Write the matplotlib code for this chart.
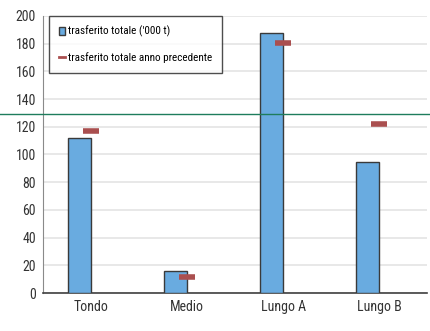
import numpy as np
import matplotlib.pyplot as plt
from matplotlib.lines import Line2D
from matplotlib.patches import Patch

plt.rcParams['font.family'] = ['Roboto Condensed', 'Liberation Sans', 'DejaVu Sans']

categorie = ["Tondo", "Medio", "Lungo A", "Lungo B"]
trasferito = [112, 16, 188, 94.5]
anno_prec = [117, 11.5, 180.5, 122]
soglia = 129

x = np.arange(len(categorie))
w = 0.24

fig = plt.figure(figsize=(4.31, 3.31), dpi=100)
ax = fig.add_axes([0.0998, 0.1148, 0.891, 0.8369])

ax.bar(x - w, trasferito, width=w, align='edge', color='#69abe0',
       edgecolor='#3a3a3a', linewidth=1.0, zorder=3)
ax.plot(x, anno_prec, linestyle='none', marker='_', markersize=11,
        markeredgewidth=4, color='#aa4f4f', zorder=4)

ax.set_ylim(0, 200)
ax.set_xlim(-0.5, 3.5)
ax.set_yticks(np.arange(0, 201, 20))
ax.set_xticks(x)
ax.set_xticklabels(categorie)
ax.tick_params(length=0, labelsize=10, colors='#333333', pad=5)
ax.yaxis.grid(True, color='#e4e4e4', linewidth=1.2, zorder=0)
ax.set_axisbelow(True)

for s in ['top', 'right']:
    ax.spines[s].set_visible(False)
ax.spines['left'].set_color('#8a8a8a')
ax.spines['bottom'].set_color('#404040')
ax.spines['bottom'].set_linewidth(1.2)

# linea verde su tutta la larghezza
trans = ax.get_yaxis_transform()
ax.plot([-0.2, 1.1], [soglia, soglia], transform=trans, color='#1e7d5c',
        linewidth=1.0, clip_on=False, zorder=5)

handles = [
    Patch(facecolor='#69abe0', edgecolor='#3a3a3a', linewidth=1.0),
    Line2D([], [], color='#aa4f4f', linewidth=2.0),
]
labels = ["trasferito totale ('000 t)", "trasferito totale anno precedente"]
leg = ax.legend(handles, labels, loc='upper left', bbox_to_anchor=(0.015, 1.0),
                borderaxespad=0, fontsize=8, frameon=True, fancybox=False,
                edgecolor='#222222', handlelength=0.6, handleheight=0.6,
                handletextpad=0.2, labelspacing=1.3, borderpad=0.9)
leg.get_frame().set_linewidth(1.0)
leg.set_zorder(6)

fig.savefig('out.png', dpi=100)
